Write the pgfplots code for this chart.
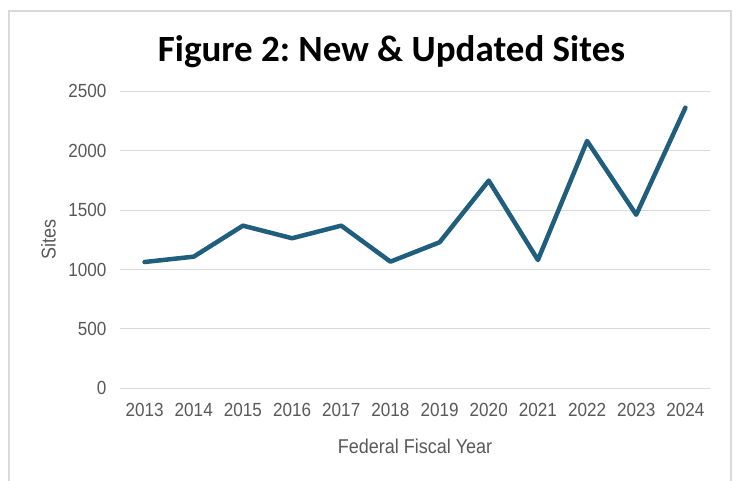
\documentclass[border=0pt]{standalone}
\usepackage{fontspec}
\setmainfont[FakeStretch=0.9]{Liberation Sans}
\newfontfamily\titlefont{Carlito}
\usepackage{pgfplots}
\pgfplotsset{compat=1.18}
\definecolor{linec}{RGB}{31,94,124}
\definecolor{txt}{RGB}{89,89,89}
\definecolor{grid}{RGB}{217,217,217}
\frenchspacing
\begin{document}
\begin{tikzpicture}[x=1pt,y=1pt]
\useasboundingbox[fill=white] (0,0) rectangle (737,481);
\draw[color=grid,line width=1.2pt] (9,-5) -- (9,470) -- (731,470) -- (731,-5);
\node[anchor=base,font=\titlefont\bfseries\fontsize{37}{40}\selectfont] at (391.5,419) {Figure 2: New \& Updated Sites};
\begin{axis}[
  at={(120pt,92.7pt)}, anchor=south west,
  scale only axis, width=590pt, height=297pt,
  xmin=-0.5, xmax=11.5, ymin=0, ymax=2500,
  ytick={0,500,1000,1500,2000,2500},
  xtick={0,...,11},
  xticklabels={2013,2014,2015,2016,2017,2018,2019,2020,2021,2022,2023,2024},
  axis line style={draw=none},
  major tick length=0pt,
  ymajorgrids, grid style={color=grid,line width=1.1pt},
  /pgf/number format/assume math mode=true,
  /pgf/number format/1000 sep={},
  ticklabel style={font=\fontsize{19}{22}\selectfont, text=txt},
  yticklabel style={xshift=-10pt},
  xticklabel style={yshift=-11pt},
  xlabel={Federal Fiscal Year},
  ylabel={Sites},
  xlabel style={at={(axis description cs:0.5,0)}, anchor=center, yshift=-58pt, font=\fontsize{20}{24}\selectfont, text=txt},
  ylabel style={at={(axis description cs:0,0.5)}, anchor=center, yshift=71.5pt, font=\fontsize{20}{24}\selectfont, text=txt},
  clip=false,
]
\addplot[color=linec, line width=4.5pt, line join=round, line cap=round, mark=none] coordinates {
(0,1063) (1,1108) (2,1369) (3,1263) (4,1369) (5,1066) (6,1229) (7,1748) (8,1080) (9,2082) (10,1461) (11,2362)
};
\end{axis}
\end{tikzpicture}
\end{document}
